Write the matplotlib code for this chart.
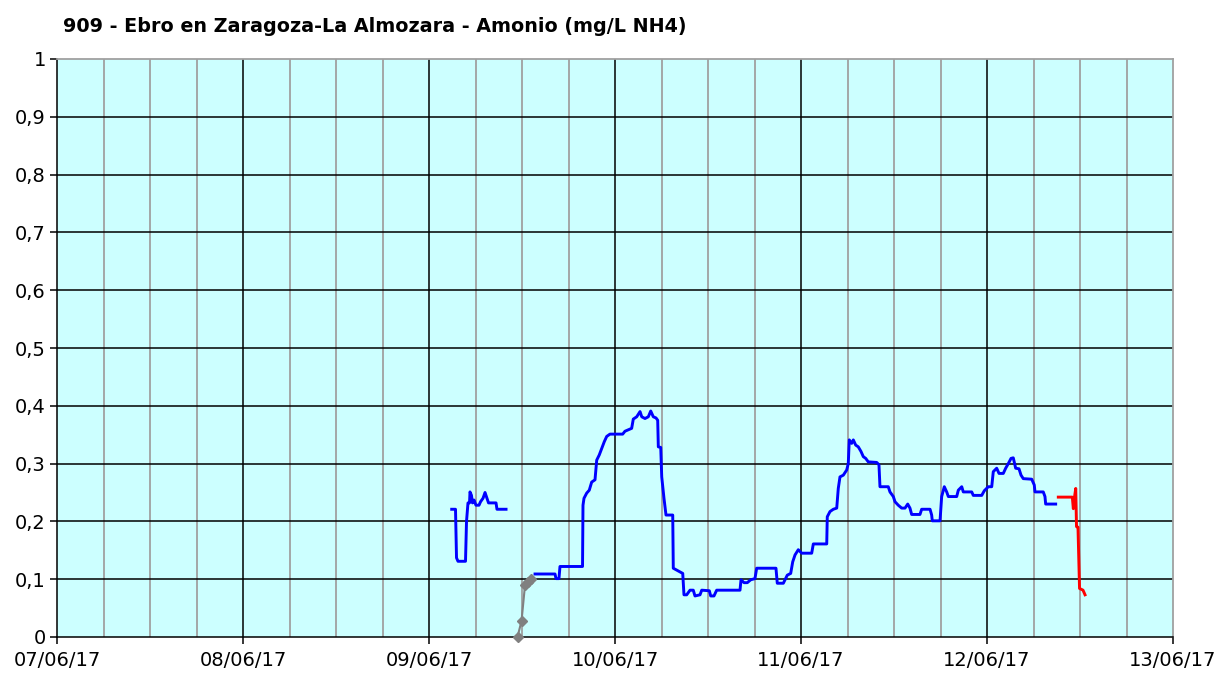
import matplotlib
matplotlib.use("Agg")
import matplotlib.pyplot as plt
import numpy as np

# ---- data (x = hours since 07/06/17 00:00, y = mg/L NH4) ----
blue1_h = [50.93, 51.42, 51.55, 51.74, 52.71, 52.84, 53.03, 53.23, 53.29, 53.48,
           53.61, 53.81, 54.06, 54.45, 54.65, 54.97, 55.23, 55.48, 55.68, 56.65,
           56.77, 57.94]
blue1_v = [0.221, 0.221, 0.137, 0.131, 0.131, 0.200, 0.232, 0.232, 0.251, 0.245,
           0.232, 0.237, 0.228, 0.228, 0.234, 0.240, 0.250, 0.240, 0.232, 0.232,
           0.221, 0.221]

grey_h = [59.42, 59.94, 60.39, 60.77, 61.16]
grey_v = [0.0, 0.028, 0.090, 0.095, 0.100]

blue2_h = [61.68, 64.26, 64.39, 64.77, 64.90, 67.81, 67.87, 68.00, 68.35, 68.68,
           68.99, 69.42, 69.64, 69.97, 70.28, 70.62, 70.93, 71.35, 72.99, 73.29,
           74.15, 74.36, 74.80, 75.23, 75.45, 75.87, 76.30, 76.61, 76.94, 77.29,
           77.51, 77.59, 77.90, 78.03, 78.32, 78.58, 79.45, 79.52, 80.74, 80.90,
           81.25, 81.68, 82.10, 82.32, 82.97, 83.19, 84.17, 84.35, 84.77, 85.12,
           88.13, 88.26, 88.65, 89.07, 89.51, 90.06, 90.28, 92.77, 92.94, 93.72,
           94.23, 94.67, 94.93, 95.23, 95.65, 96.09, 97.38, 97.59, 99.32, 99.39,
           99.74, 100.17, 100.61, 100.81, 101.03, 101.46, 101.90, 102.10, 102.23, 102.54,
           102.75, 103.06, 103.39, 103.74, 104.04, 104.35, 104.68, 105.77, 106.06, 106.19,
           107.26, 107.48, 107.91, 108.13, 108.55, 108.99, 109.42, 109.77, 110.06, 110.28,
           111.35, 111.57, 112.65, 112.86, 112.94, 113.94, 114.15, 114.49, 114.80, 115.01,
           116.09, 116.30, 116.74, 116.94, 118.03, 118.23, 119.32, 119.65, 120.17, 120.61,
           120.81, 121.25, 121.55, 122.10, 122.41, 122.75, 123.10, 123.39, 123.70, 124.13,
           124.39, 124.68, 125.77, 126.10, 126.19, 127.26, 127.48, 127.57, 128.86]
blue2_v = [0.109, 0.109, 0.101, 0.101, 0.122, 0.122, 0.228, 0.240, 0.249, 0.254,
           0.268, 0.272, 0.306, 0.315, 0.326, 0.338, 0.347, 0.351, 0.351, 0.356,
           0.361, 0.377, 0.381, 0.390, 0.381, 0.378, 0.381, 0.391, 0.381, 0.379,
           0.375, 0.329, 0.328, 0.277, 0.240, 0.211, 0.211, 0.119, 0.110, 0.073,
           0.073, 0.081, 0.081, 0.071, 0.073, 0.081, 0.080, 0.071, 0.071, 0.081,
           0.081, 0.099, 0.094, 0.094, 0.099, 0.101, 0.119, 0.119, 0.093, 0.093,
           0.107, 0.110, 0.130, 0.142, 0.151, 0.145, 0.145, 0.161, 0.161, 0.208,
           0.217, 0.221, 0.223, 0.257, 0.277, 0.280, 0.289, 0.300, 0.341, 0.335,
           0.341, 0.332, 0.329, 0.321, 0.312, 0.309, 0.303, 0.302, 0.298, 0.260,
           0.260, 0.251, 0.243, 0.234, 0.228, 0.223, 0.223, 0.230, 0.223, 0.212,
           0.212, 0.221, 0.221, 0.211, 0.201, 0.201, 0.243, 0.260, 0.251, 0.243,
           0.243, 0.254, 0.260, 0.251, 0.251, 0.245, 0.245, 0.253, 0.260, 0.260,
           0.286, 0.292, 0.283, 0.283, 0.292, 0.300, 0.309, 0.310, 0.292, 0.291,
           0.280, 0.274, 0.273, 0.263, 0.251, 0.251, 0.243, 0.230, 0.230]

red_h = [129.20, 131.01, 131.14, 131.29, 131.45, 131.55, 131.74, 131.94, 132.39, 132.65]
red_v = [0.242, 0.242, 0.222, 0.242, 0.257, 0.191, 0.190, 0.084, 0.081, 0.073]

day_ticks = [0, 24, 48, 72, 96, 120, 144]
day_labels = ["07/06/17", "08/06/17", "09/06/17", "10/06/17", "11/06/17", "12/06/17", "13/06/17"]
y_ticks = [0, 0.1, 0.2, 0.3, 0.4, 0.5, 0.6, 0.7, 0.8, 0.9, 1.0]
y_labels = ["0", "0,1", "0,2", "0,3", "0,4", "0,5", "0,6", "0,7", "0,8", "0,9", "1"]
title = "909 - Ebro en Zaragoza-La Almozara - Amonio (mg/L NH4)"

plt.rcParams['font.family'] = ['DejaVu Sans']

fig = plt.figure(figsize=(12.17, 6.75), dpi=100)
ax = fig.add_axes([57/1217, 1-637/675, (1173-57)/1217, (637-59)/675])
ax.set_facecolor("#CCFFFF")

ax.set_xlim(0, 144)
ax.set_ylim(0, 1)

# grid
for h in np.arange(6, 144, 6):
    if h % 24 == 0:
        ax.axvline(h, color="black", lw=1.1, zorder=1)
    else:
        ax.axvline(h, color="#A0A0A0", lw=1.3, zorder=1)
for yv in y_ticks[1:-1]:
    ax.axhline(yv, color="black", lw=1.1, zorder=1)

ax.plot(blue1_h, blue1_v, color="#0000FF", lw=2.1, zorder=3)
ax.plot(blue2_h, blue2_v, color="#0000FF", lw=2.1, zorder=3)
ax.plot(red_h, red_v, color="#FF0000", lw=2.1, zorder=3)
ax.plot(grey_h, grey_v, color="#808080", lw=1.5, marker="D", markersize=5,
        markeredgecolor="#808080", markerfacecolor="#808080", zorder=4, clip_on=False)

ax.set_xticks(day_ticks)
ax.set_xticklabels(day_labels, fontsize=14)
ax.set_yticks(y_ticks)
ax.set_yticklabels(y_labels, fontsize=14)
ax.tick_params(axis="both", direction="out", length=5, width=1.1, color="black", pad=3)
ax.tick_params(axis="x", pad=5)

for s in ["top", "right"]:
    ax.spines[s].set_color("#A0A0A0")
    ax.spines[s].set_linewidth(1.3)
for s in ["left", "bottom"]:
    ax.spines[s].set_color("black")
    ax.spines[s].set_linewidth(1.1)

fig.text(63/1217, 1-27/675, title, fontsize=13.8, fontweight="bold", ha="left", va="center")

fig.savefig("out.png", dpi=100)
